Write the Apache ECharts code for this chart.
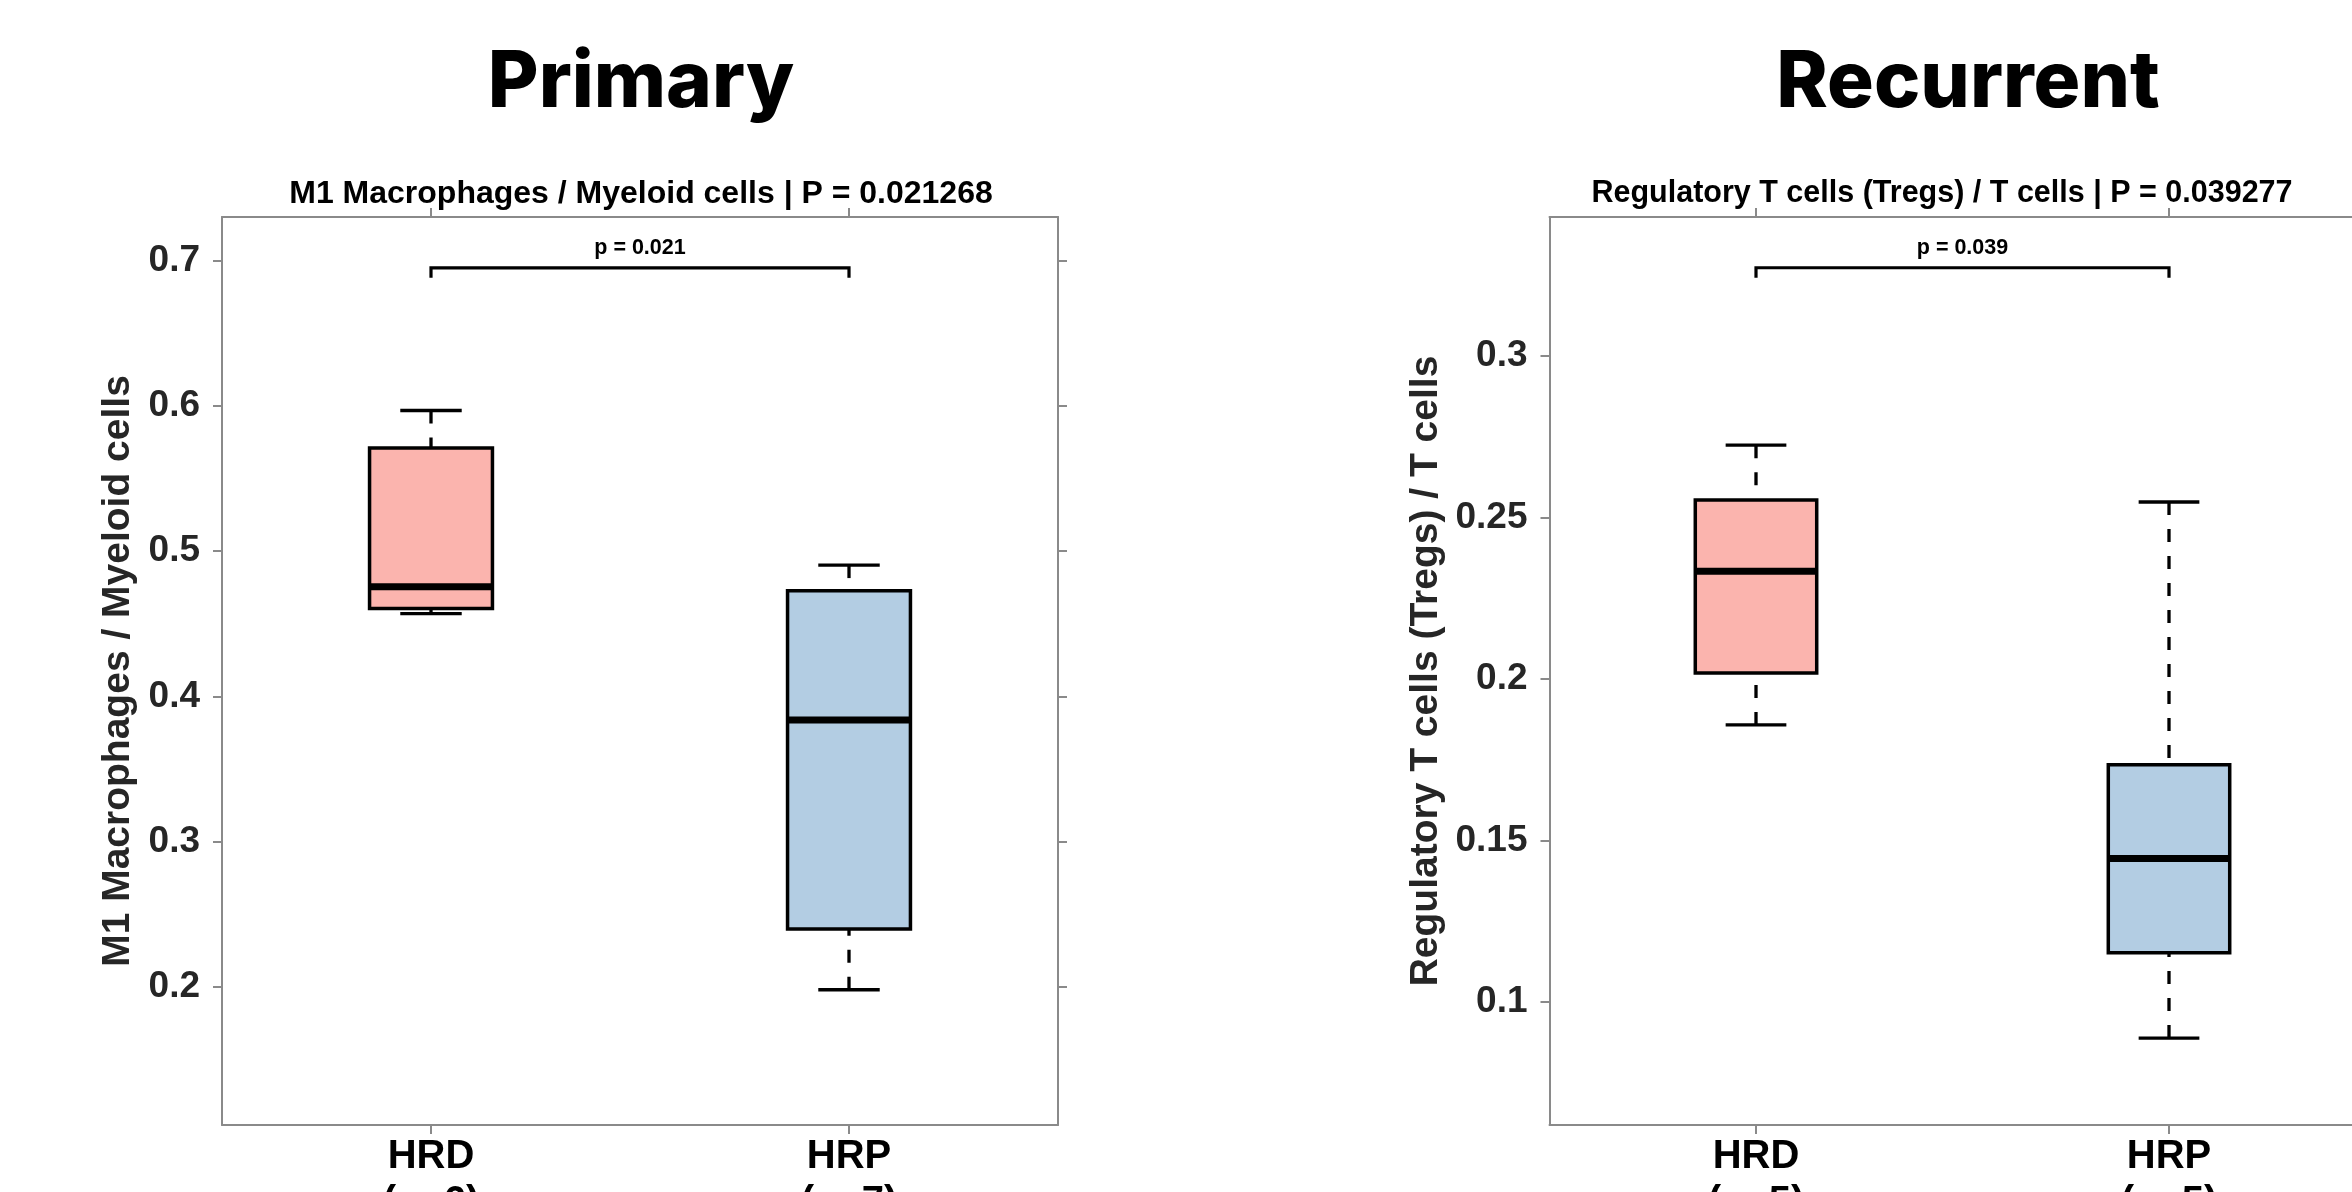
<!DOCTYPE html>
<html>
<head>
<meta charset="utf-8">
<script src="https://cdn.jsdelivr.net/npm/echarts@6/dist/echarts.min.js"></script>
<style>
  html, body { margin: 0; padding: 0; background: #ffffff; }
  #chart { width: 2352px; height: 1192px; }
</style>
</head>
<body>
<div id="chart"></div>
<script>
// Groups and sample sizes
const groups = ['HRD', 'HRP'];
const primaryCounts = [6, 7];
const recurrentCounts = [5, 5];

// Five-number summaries: lower whisker, Q1, median, Q3, upper whisker
const primaryHRD = [0.457, 0.4606, 0.4755, 0.571, 0.5968];
const primaryHRP = [0.1981, 0.2399, 0.3838, 0.4728, 0.4904];
const recurrentHRD = [0.1858, 0.2019, 0.2334, 0.2554, 0.2724];
const recurrentHRP = [0.0889, 0.1153, 0.1445, 0.1735, 0.2548];

// Y axis ticks and ranges
const primaryTicks = [0.2, 0.3, 0.4, 0.5, 0.6, 0.7];
const recurrentTicks = [0.1, 0.15, 0.2, 0.25, 0.3];
const primaryRange = [0.105, 0.730];
const recurrentRange = [0.062, 0.343];

// Ratio names and test results
const primaryRatio = 'M1 Macrophages / Myeloid cells';
const recurrentRatio = 'Regulatory T cells (Tregs) / T cells';
const primaryP = 0.021268;
const recurrentP = 0.039277;
const primaryBracket = 0.695;
const recurrentBracket = 0.3273;

const FILLS = ['#FBB4AE', '#B3CDE3'];
const ARIAL = "'Liberation Sans', Arial, Helvetica, sans-serif";
const FRAME = '#8a8a8a';

function boxData(a, b) {
  return [[0].concat(a), [1].concat(b)];
}

function renderBox(params, api) {
  const x = api.value(0);
  const lo = api.value(1), q1 = api.value(2), med = api.value(3), q3 = api.value(4), hi = api.value(5);
  const band = api.size([1, 0])[0];
  const hw = band * 0.147;
  const cw = hw / 2;
  const pLo = api.coord([x, lo]);
  const pQ1 = api.coord([x, q1]);
  const pMed = api.coord([x, med]);
  const pQ3 = api.coord([x, q3]);
  const pHi = api.coord([x, hi]);
  const cx = pMed[0];
  const whisk = { stroke: '#000', lineWidth: 3.3, lineDash: [13, 14] };
  const solid = { stroke: '#000', lineWidth: 3.3 };
  return {
    type: 'group',
    children: [
      { type: 'line', shape: { x1: cx, y1: pHi[1], x2: cx, y2: pQ3[1] }, style: whisk },
      { type: 'line', shape: { x1: cx, y1: pLo[1], x2: cx, y2: pQ1[1] }, style: whisk },
      { type: 'line', shape: { x1: cx - cw, y1: pHi[1], x2: cx + cw, y2: pHi[1] }, style: solid },
      { type: 'line', shape: { x1: cx - cw, y1: pLo[1], x2: cx + cw, y2: pLo[1] }, style: solid },
      { type: 'rect', shape: { x: cx - hw, y: pQ3[1], width: 2 * hw, height: pQ1[1] - pQ3[1] },
        style: { fill: FILLS[params.dataIndex], stroke: '#000', lineWidth: 3.5 } },
      { type: 'line', shape: { x1: cx - hw, y1: pMed[1], x2: cx + hw, y2: pMed[1] },
        style: { stroke: '#000', lineWidth: 7 } }
    ]
  };
}

function bracketRenderer(label) {
  return function (params, api) {
    const a = api.coord([api.value(0), api.value(2)]);
    const b = api.coord([api.value(1), api.value(2)]);
    const drop = 10;
    return {
      type: 'group',
      children: [
        { type: 'polyline',
          shape: { points: [[a[0], a[1] + drop], [a[0], a[1]], [b[0], b[1]], [b[0], b[1] + drop]] },
          style: { stroke: '#000', lineWidth: 3.2, fill: null } },
        { type: 'text', x: (a[0] + b[0]) / 2, y: a[1] - 20,
          style: { text: label, fontFamily: ARIAL, fontWeight: 'bold', fontSize: 21.5,
                   fill: '#000', align: 'center', verticalAlign: 'middle' } }
      ]
    };
  };
}

function bottomAxis(gridIndex, counts) {
  return {
    type: 'category', gridIndex, position: 'bottom', data: groups,
    axisLine: { show: true, lineStyle: { color: FRAME, width: 2 } },
    axisTick: { show: true, alignWithLabel: true, length: 9, lineStyle: { color: FRAME, width: 2 } },
    axisLabel: {
      interval: 0, margin: 9, fontFamily: ARIAL, fontWeight: 'bold', fontSize: 40,
      lineHeight: 46, color: '#000',
      formatter: (v, i) => v + '\n(n=' + counts[i] + ')'
    },
    splitLine: { show: false }
  };
}

function topAxis(gridIndex) {
  return {
    type: 'category', gridIndex, position: 'top', data: groups,
    axisLine: { show: true, lineStyle: { color: FRAME, width: 2 } },
    axisTick: { show: true, alignWithLabel: true, length: 9, lineStyle: { color: FRAME, width: 2 } },
    axisLabel: { show: false },
    splitLine: { show: false }
  };
}

function leftAxis(gridIndex, range, ticks, name, nameGap) {
  return {
    type: 'value', gridIndex, position: 'left', min: range[0], max: range[1],
    name, nameLocation: 'middle', nameGap,
    nameTextStyle: { fontFamily: ARIAL, fontWeight: 'bold', fontSize: 39, color: '#262626' },
    axisLine: { show: true, lineStyle: { color: FRAME, width: 2 } },
    axisTick: { show: true, customValues: ticks, length: 9, lineStyle: { color: FRAME, width: 2 } },
    axisLabel: { customValues: ticks, margin: 22, fontFamily: ARIAL, fontWeight: 'bold',
                 fontSize: 37, color: '#262626', formatter: v => String(v) },
    splitLine: { show: false }
  };
}

function rightAxis(gridIndex, range, ticks) {
  return {
    type: 'value', gridIndex, position: 'right', min: range[0], max: range[1],
    axisLine: { show: true, lineStyle: { color: FRAME, width: 2 } },
    axisTick: { show: true, customValues: ticks, length: 9, lineStyle: { color: FRAME, width: 2 } },
    axisLabel: { show: false },
    splitLine: { show: false }
  };
}

const chart = echarts.init(document.getElementById('chart'), null, { renderer: 'canvas' });

const option = {
  backgroundColor: '#ffffff',
  animation: false,
  grid: [
    { left: 222, top: 217, width: 836, height: 908, outerBoundsMode: 'none', containLabel: false },
    { left: 1549.5, top: 217, width: 826, height: 908, outerBoundsMode: 'none', containLabel: false }
  ],
  xAxis: [
    bottomAxis(0, primaryCounts),
    topAxis(0),
    bottomAxis(1, recurrentCounts),
    topAxis(1)
  ],
  yAxis: [
    leftAxis(0, primaryRange, primaryTicks, primaryRatio, 84),
    rightAxis(0, primaryRange, primaryTicks),
    leftAxis(1, recurrentRange, recurrentTicks, recurrentRatio, 104),
    rightAxis(1, recurrentRange, recurrentTicks)
  ],
  graphic: [
    { type: 'text', x: 641, y: 83.5,
      style: { text: 'Primary', fontFamily: 'Inter, "Open Sans", sans-serif', fontWeight: 800,
               fontSize: 78, fill: '#000', align: 'center', verticalAlign: 'middle' } },
    { type: 'text', x: 1968, y: 83.5,
      style: { text: 'Recurrent', fontFamily: 'Inter, "Open Sans", sans-serif', fontWeight: 800,
               fontSize: 78, fill: '#000', align: 'center', verticalAlign: 'middle' } },
    { type: 'text', x: 641, y: 194,
      style: { text: primaryRatio + ' | P = ' + primaryP.toFixed(6), fontFamily: ARIAL,
               fontWeight: 'bold', fontSize: 32, fill: '#000', align: 'center', verticalAlign: 'middle' } },
    { type: 'text', x: 1942, y: 194,
      style: { text: recurrentRatio + ' | P = ' + recurrentP.toFixed(6), fontFamily: ARIAL,
               fontWeight: 'bold', fontSize: 30.5, fill: '#000', align: 'center', verticalAlign: 'middle' } }
  ],
  series: [
    { type: 'custom', xAxisIndex: 0, yAxisIndex: 0, renderItem: renderBox,
      data: boxData(primaryHRD, primaryHRP), z: 3 },
    { type: 'custom', xAxisIndex: 0, yAxisIndex: 0,
      renderItem: bracketRenderer('p = ' + primaryP.toFixed(3)),
      data: [[0, 1, primaryBracket]], z: 3 },
    { type: 'custom', xAxisIndex: 2, yAxisIndex: 2, renderItem: renderBox,
      data: boxData(recurrentHRD, recurrentHRP), z: 3 },
    { type: 'custom', xAxisIndex: 2, yAxisIndex: 2,
      renderItem: bracketRenderer('p = ' + recurrentP.toFixed(3)),
      data: [[0, 1, recurrentBracket]], z: 3 }
  ]
};

chart.setOption(option);
</script>
</body>
</html>
